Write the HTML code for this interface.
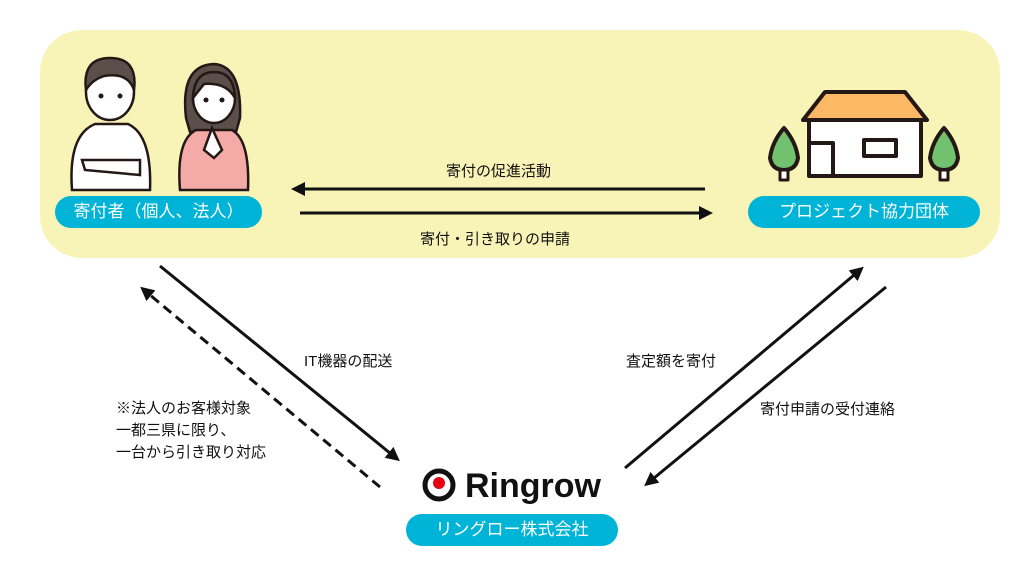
<!DOCTYPE html>
<html><head><meta charset="utf-8"><style>
body{margin:0;width:1024px;height:576px;background:#fff;position:relative;overflow:hidden;font-family:"Liberation Sans","Noto Sans CJK JP",sans-serif;}
.bg{position:absolute;left:40px;top:30px;width:960px;height:228px;background:#f8f3b6;border-radius:42px;}
.pill{position:absolute;background:#00b4d8;color:#fff;border-radius:16px;height:32px;line-height:32px;text-align:center;font-size:17px;}
.t{position:absolute;font-size:15px;color:#111;white-space:nowrap;}
</style></head><body>
<div class="bg"></div>
<svg width="1024" height="576" style="position:absolute;left:0;top:0">
<defs>
<marker id="b" markerWidth="14" markerHeight="14" refX="9" refY="7" orient="auto" markerUnits="userSpaceOnUse"><path d="M0,0 L14,7 L0,14 z" fill="#111"/></marker></defs>
<g stroke="#111" stroke-width="3" fill="none">
<line x1="705" y1="189" x2="296" y2="189" marker-end="url(#b)"/>
<line x1="300" y1="213" x2="708" y2="213" marker-end="url(#b)"/>
<line x1="160" y1="266" x2="396" y2="458" marker-end="url(#b)"/>
<line x1="380" y1="487" x2="144" y2="290" stroke-dasharray="10,6" marker-end="url(#b)"/>
<line x1="625" y1="468" x2="860" y2="270" marker-end="url(#b)"/>
<line x1="886" y1="287" x2="648" y2="483" marker-end="url(#b)"/>
</g>
<g stroke="#231815" stroke-width="2.5">
<path d="M72,190 Q68,135 95,124 L128,124 Q152,135 150,190 Z" fill="#fff"/>
<ellipse cx="110" cy="92" rx="24" ry="28" fill="#fff"/>
<path d="M86,90 Q82,58 110,58 Q138,58 134,90 Q128,72 104,76 Q92,80 86,90Z" fill="#5a4f4b"/>
<path d="M82,160 L140,160 L140,175 L85,170Z" fill="#fff"/>
<path d="M186,118 Q180,65 214,64 Q242,66 240,118 L236,132 L190,132Z" fill="#5a4f4b"/>
<path d="M180,190 Q176,140 196,130 L232,130 Q250,140 248,190 Z" fill="#f4aaa6"/>
<ellipse cx="214" cy="98" rx="21" ry="25" fill="#fff"/>
<path d="M193,98 Q194,72 214,72 Q234,72 235,98 Q226,82 204,84Z" fill="#5a4f4b"/>
<path d="M212,128 L222,150 L214,158 L204,150Z" fill="#fff"/>
</g>
<g fill="#231815"><circle cx="101" cy="96" r="2.5"/><circle cx="120" cy="96" r="2.5"/><circle cx="206" cy="100" r="2.5"/><circle cx="222" cy="100" r="2.5"/></g>
<g stroke="#231815" stroke-width="4" stroke-linejoin="round">
<path d="M825,92 L905,92 L927,120 L803,120Z" fill="#fbb965"/>
<rect x="809" y="120" width="112" height="56" fill="#fff"/>
<path d="M809,143 L833,143 L833,176" fill="none"/>
<rect x="864" y="140" width="32" height="16" fill="#fff"/>
<path d="M784,128 Q772,142 770,158 Q772,170 784,170 Q796,170 798,158 Q796,142 784,128Z" fill="#72c16f"/>
<rect x="780" y="170" width="8" height="10" fill="#fff" stroke-width="3"/>
<path d="M944,128 Q932,142 930,158 Q932,170 944,170 Q956,170 958,158 Q956,142 944,128Z" fill="#72c16f"/>
<rect x="940" y="170" width="8" height="10" fill="#fff" stroke-width="3"/>
</g>
<circle cx="439" cy="485" r="14" fill="none" stroke="#111" stroke-width="5"/>
<circle cx="439" cy="483" r="6" fill="#e60012"/>
<text x="465" y="497" font-family="Liberation Sans" font-weight="bold" font-size="34" fill="#111">Ringrow</text>
</svg>
<div class="pill" style="left:55px;top:196px;width:207px">寄付者（個人、法人）</div>
<div class="pill" style="left:748px;top:196px;width:232px">プロジェクト協力団体</div>
<div class="pill" style="left:406px;top:514px;width:212px">リングロー株式会社</div>
<div class="t" style="left:446px;top:160px">寄付の促進活動</div>
<div class="t" style="left:420px;top:228px">寄付・引き取りの申請</div>
<div class="t" style="left:304px;top:350px">IT機器の配送</div>
<div class="t" style="left:116px;top:398px;line-height:22px">※法人のお客様対象<br>一都三県に限り、<br>一台から引き取り対応</div>
<div class="t" style="left:626px;top:350px">査定額を寄付</div>
<div class="t" style="left:760px;top:398px">寄付申請の受付連絡</div>
</body></html>
